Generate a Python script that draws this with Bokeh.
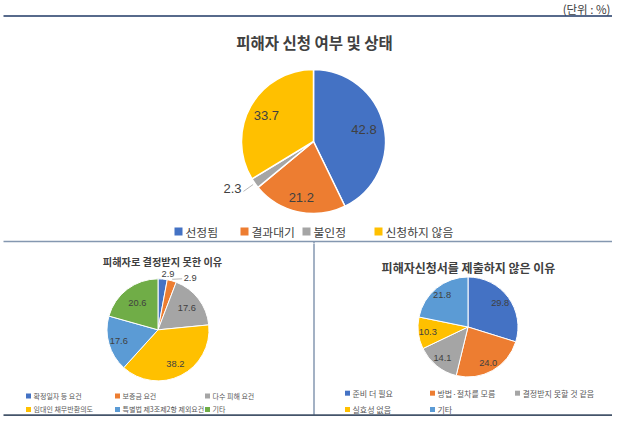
import math
from bokeh.plotting import figure
from bokeh.models import Range1d
from bokeh.layouts import column
from bokeh.embed import file_html
from bokeh.resources import INLINE
from bokeh.core.properties import value

# ---------------- data ----------------
unit_text = "(단위 : %)"

top_title = "피해자 신청 여부 및 상태"
top_labels = ["선정됨", "결과대기", "불인정", "신청하지 않음"]
top_values = [42.8, 21.2, 2.3, 33.7]

left_title = "피해자로 결정받지 못한 이유"
left_labels = ["확정일자 등 요건", "보증금 요건", "다수 피해 요건",
               "임대인 채무반환의도", "특별법 제3조제2항 제외요건", "기타"]
left_values = [2.9, 2.9, 17.6, 38.2, 17.6, 20.6]

right_title = "피해자신청서를 제출하지 않은 이유"
right_labels = ["준비 더 필요", "방법·절차를 모름", "결정받지 못할 것 같음",
                "실효성 없음", "기타"]
right_values = [29.8, 24.0, 14.1, 10.3, 21.8]

# ---------------- style ----------------
BLUE, ORANGE, GRAY, YELLOW, LBLUE, GREEN = ("#4472C4", "#ED7D31", "#A5A5A5",
                                            "#FFC000", "#5B9BD5", "#70AD47")
top_colors = [BLUE, ORANGE, GRAY, YELLOW]
left_colors = [BLUE, ORANGE, GRAY, YELLOW, LBLUE, GREEN]
right_colors = [BLUE, ORANGE, GRAY, YELLOW, LBLUE]

KR = "Noto Sans CJK KR"
NUM = "Liberation Sans"
DARK = "#404040"
LEG = "#595959"
W = 612


class Panel:
    """A figure whose x is in page pixels and y in (negated) page pixels."""

    def __init__(self, ya, yb, height):
        self.ky = (yb - ya) / height  # data units per screen px (vertical)
        self.yb = yb
        p = figure(width=W, height=height, x_range=Range1d(0, W),
                   y_range=Range1d(-yb, -ya), output_backend="svg",
                   toolbar_location=None, min_border=0,
                   x_axis_type=None, y_axis_type=None)
        p.grid.visible = False
        p.outline_line_color = None
        p.background_fill_color = "white"
        p.border_fill_color = "white"
        self.p = p

    def line(self, xs, ys, color, width):
        self.p.line(x=xs, y=[-y for y in ys], line_color=color, line_width=width)

    def txt(self, x, y, s, size, color=DARK, font=KR, align="center", bold=False):
        self.p.text(x=[x], y=[-y], text=[s], text_font=value(font),
                    text_font_size=f"{size}px", text_color=color,
                    text_align=align, text_baseline="middle",
                    text_font_style="bold" if bold else "normal")

    def pie(self, cx, cy, r, values, colors, lw, label_f, label_da, size,
            leaders=()):
        total = sum(values)
        starts, ends, mids = [], [], []
        cum = 0.0
        for v in values:
            a0 = math.pi / 2 - 2 * math.pi * cum / total
            cum += v
            a1 = math.pi / 2 - 2 * math.pi * cum / total
            starts.append(a1)
            ends.append(a0)
            mids.append((a0 + a1) / 2)
        self.p.wedge(x=cx, y=-cy, radius=r, start_angle=starts, end_angle=ends,
                     fill_color=colors, line_color="white", line_width=lw)
        lx, ly = [], []
        for m, f, da in zip(mids, label_f, label_da):
            a = m + math.radians(da)
            lx.append(cx + f * r * math.cos(a))
            ly.append(-cy + f * r * math.sin(a) * self.ky)
        self.p.text(x=lx, y=ly, text=[f"{v:.1f}" for v in values],
                    text_font=value(NUM), text_font_size=f"{size}px",
                    text_color=DARK, text_align="center",
                    text_baseline="middle")
        for i, (dx, dy) in leaders:
            m = mids[i]
            sx = cx + 1.03 * r * math.cos(m)
            sy = -cy + 1.03 * r * math.sin(m) * self.ky
            self.p.line(x=[sx, lx[i] + dx], y=[sy, ly[i] - dy * self.ky],
                        line_color="#A6A6A6", line_width=0.8)

    def legend(self, xs, ys, ncols, labels, colors, size, sq, gap, color=LEG):
        px_, py_ = [], []
        for i in range(len(labels)):
            px_.append(xs[i % ncols])
            py_.append(-ys[i // ncols])
        self.p.scatter(x=px_, y=py_, marker="square", size=sq,
                       fill_color=colors, line_color=None)
        self.p.text(x=[x + gap for x in px_], y=py_, text=labels,
                    text_font=value(KR), text_font_size=f"{size}px",
                    text_color=color, text_align="left",
                    text_baseline="middle")


# ---- top panel (page y 0..243, 1:1) ----
top = Panel(0, 243, 243)
top.txt(610, 8, unit_text, 11.5, align="right")
top.line([3, 623], [15.5, 15.5], "#1F3864", 1.5)
top.txt(314, 41, top_title, 15.5, bold=True)
top.pie(313, 141, 72, top_values, top_colors, 1.5,
        [0.72, 0.80, 1.30, 0.75], [0, 0, -5.4, 0], 13,
        leaders=[(2, (11, 3))])
top.legend([178, 244, 306, 378], [231], 4, top_labels, top_colors, 11.8, 8, 7,
           color=DARK)
top.line([3, 623], [241, 241], "#8497B0", 1.5)
top.line([313.5, 313.5], [241, 244], "#8497B0", 1.5)

# ---- bottom panel (page y 243..423, slightly compressed into 173 px) ----
bot = Panel(243, 423.3, 173)
bot.line([313.5, 313.5], [242, 423.3], "#8497B0", 1.5)
bot.line([3, 623], [423.3 - 1.2 * bot.ky, 423.3 - 1.2 * bot.ky], "#44546A", 2)

bot.txt(162, 262, left_title, 10.2, bold=True)
bot.pie(157.5, 333, 51, left_values, left_colors, 1,
        [1.12, 1.2, 0.71, 0.76, 0.8, 0.67], [-4.8, -16, 0, 0, 0, 0], 9.3,
        leaders=[(1, (-8, 1))])
bot.legend([28, 117, 207], [402, 416], 3, left_labels, left_colors, 7, 5, 5)

bot.txt(468, 268, right_title, 12, bold=True)
bot.pie(467.5, 330, 50, right_values, right_colors, 1,
        [0.8, 0.82, 0.81, 0.81, 0.82], [0, 0, 0, 0, 0], 9.3)
bot.legend([347, 432, 517], [399, 416], 3, right_labels, right_colors, 8, 5, 5)

layout = column(top.p, bot.p, spacing=0)
open("out.html", "w").write(file_html(layout, INLINE))
